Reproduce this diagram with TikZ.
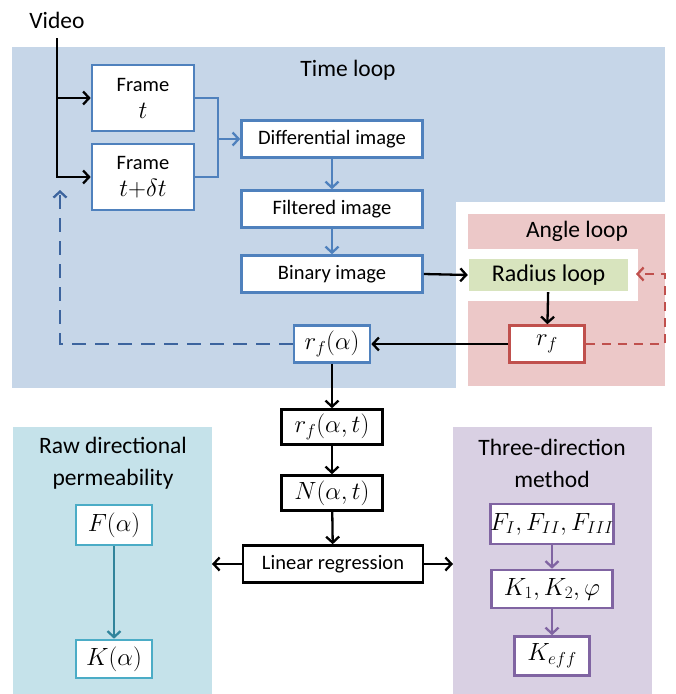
\documentclass[tikz,border=0pt]{standalone}
\usepackage{fontspec}
\setmainfont{Carlito}
\usetikzlibrary{arrows.meta}
\definecolor{timefill}{RGB}{198,214,232}
\definecolor{timeline}{RGB}{79,129,189}
\definecolor{timedash}{RGB}{60,100,158}
\definecolor{anglefill}{RGB}{236,200,200}
\definecolor{angleline}{RGB}{192,80,77}
\definecolor{radiusfill}{RGB}{216,228,190}
\definecolor{rawfill}{RGB}{197,226,234}
\definecolor{rawline}{RGB}{75,172,198}
\definecolor{rawarrow}{RGB}{49,132,155}
\definecolor{threefill}{RGB}{217,208,227}
\definecolor{threeline}{RGB}{128,100,162}

\begin{document}
\begin{tikzpicture}[x=1pt, y=-1pt, line width=2.3pt, >={Straight Barb[length=6pt,width=13pt]},
		box/.style={draw, fill=white, line width=2.6pt, inner sep=0pt, align=center, font=\fontsize{20.5}{27}\selectfont},
		mbox/.style={box, font=\fontsize{25}{28}\selectfont},
		title/.style={align=center, font=\fontsize{23.5}{32}\selectfont}]
		\useasboundingbox (0,0) rectangle (676,694);
		% regions
		\fill[timefill] (12,47) rectangle (665,388);
		\fill[white] (456,202) rectangle (676,393);
		\fill[anglefill] (468,214) rectangle (665,386);
		\fill[white] (456,249) rectangle (638,301);
		\fill[rawfill] (13,427) rectangle (212,694);
		\fill[threefill] (453,427) rectangle (652,694);
		\node[title] (video) at (57,20) {Video};
		\node[title] (timeloop) at (348,70) {Time loop};
		\node[title] (angleloop) at (577,231) {Angle loop};
		\node[title] (rawtitle) at (113,463) {Raw directional\\permeability};
		\node[title] (threetitle) at (552,463) {Three-direction\\method};
		% time loop
		\node[box, draw=timeline, minimum width=102pt, minimum height=66pt] (ft) at (143,98) {Frame\\\fontsize{25}{28}\selectfont$t$};
		\node[box, draw=timeline, minimum width=102pt, minimum height=66pt] (ftd) at (143,177) {Frame\\\fontsize{25}{28}\selectfont$t{+}\delta t$};
		\node[box, draw=timeline, minimum width=181pt, minimum height=37pt] (diff) at (332,139) {Differential image};
		\node[box, draw=timeline, minimum width=181pt, minimum height=37pt] (filt) at (332,209) {Filtered image};
		\node[box, draw=timeline, minimum width=181pt, minimum height=37pt] (bin) at (332,274) {Binary image};
		\node[mbox, draw=timeline, minimum width=76pt, minimum height=37pt] (rfa) at (332,344) {$r_f(\alpha)$};
		% angle loop
		\node[fill=radiusfill, minimum width=159pt, minimum height=32pt, font=\fontsize{24}{28}\selectfont] (radius) at (548.5,275) {Radius loop};
		\node[mbox, draw=angleline, minimum width=75pt, minimum height=37pt] (rf) at (547,344) {$r_f$};
		% main column
		\node[mbox, minimum width=101pt, minimum height=35pt] (rfat) at (332,427) {$r_f(\alpha,t)$};
		\node[mbox, minimum width=101pt, minimum height=35pt] (nat) at (332,493) {$N(\alpha,t)$};
		\node[box, minimum width=180pt, minimum height=37pt] (lr) at (333,564) {Linear regression};
		% raw directional permeability
		\node[mbox, draw=rawline, minimum width=76pt, minimum height=40pt] (fa) at (114,525) {$F(\alpha)$};
		\node[mbox, draw=rawline, minimum width=76pt, minimum height=38pt] (ka) at (114,659) {$K(\alpha)$};
		% three-direction method
		\node[mbox, draw=threeline, minimum width=121pt, minimum height=40pt] (fiii) at (552,524) {$F_I,F_{II},F_{III}$};
		\node[mbox, draw=threeline, minimum width=121pt, minimum height=38pt] (kkp) at (552,589) {$K_1,K_2,\varphi$};
		\node[mbox, draw=threeline, minimum width=75pt, minimum height=39pt] (keff) at (552,656) {$K_{eff}$};
		% connectors
		\coordinate (vtop) at (57,38);
		\coordinate (join) at (218,139);
		\coordinate (back) at (60,190);
		\coordinate (rturn) at (665,274);
		\coordinate (rin) at (636,274);
		\coordinate (rawin) at (212,564);
		\coordinate (threein) at (453,564);
		\draw[->] (vtop) |- (ft.west);
		\draw[->] (vtop) |- (ftd.west);
		\draw[timeline] (ft.east) -| (join) |- (ftd.east);
		\draw[timeline, ->] (join) -- (diff.west);
		\draw[timeline, ->] (diff) -- (filt);
		\draw[timeline, ->] (filt) -- (bin);
		\draw[->] (bin.east) -- (radius.west);
		\draw[->] (radius) -- (rf);
		\draw[->] (rf) -- (rfa);
		\draw[angleline, dash pattern=on 9pt off 7pt, ->] (rf.east) -| (rturn) -- (rin);
		\draw[timedash, dash pattern=on 14pt off 9pt, ->] (rfa.west) -| (back);
		\draw[->] (rfa) -- (rfat);
		\draw[->] (rfat) -- (nat);
		\draw[->] (nat) -- (lr);
		\draw[->] (lr.west) -- (rawin);
		\draw[->] (lr.east) -- (threein);
		\draw[rawarrow, ->] (fa) -- (ka);
		\draw[threeline, ->] (fiii) -- (kkp);
		\draw[threeline, ->] (kkp) -- (keff);
	\end{tikzpicture}
\end{document}
